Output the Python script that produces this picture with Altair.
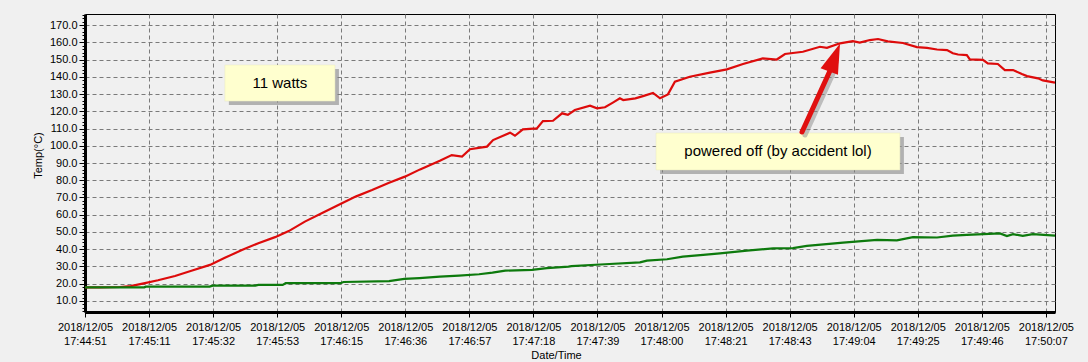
import altair as alt
import pandas as pd

# ---------------- data ----------------
DATE = "2018/12/05"
TICK_TIMES = ["17:44:51", "17:45:11", "17:45:32", "17:45:53", "17:46:15", "17:46:36",
              "17:46:57", "17:47:18", "17:47:39", "17:48:00", "17:48:21", "17:48:43",
              "17:49:04", "17:49:25", "17:49:46", "17:50:07"]
TICK_STEP = 21.0667  # seconds between labelled ticks
Y_TICKS = [10, 20, 30, 40, 50, 60, 70, 80, 90, 100, 110, 120, 130, 140, 150, 160, 170]

# seconds since 17:44:51
red_t = [0, 4.9, 11.5, 15, 19.7, 24, 29.6, 35, 41.1, 46, 51.6, 57, 62.5, 67, 72.3, 78, 84.5,
         89, 94.4, 100, 105.2, 110.2, 116.7, 120.6, 124, 126.6, 132.2, 134.2, 139.8, 141.4,
         144, 148.6, 150.6, 153.9, 156.9, 158.8, 161.1, 166.1, 168.4, 171, 173.6, 175.9,
         177, 181, 183.5, 186.8, 189.1, 191.7, 194, 198.9, 205.5, 211.1, 216.4, 222.9,
         227.5, 230.2, 236.1, 241.7, 244, 248.3, 252.5, 254.8, 258.1, 260.8, 264, 269,
         273.6, 276.9, 280.2, 283.5, 285.4, 287.1, 290, 291, 295.3, 296.9, 300.2, 302.5,
         305.2, 308.1, 309.8, 313.4, 315, 319]
red_v = [17.9, 17.9, 18.1, 18.6, 20.3, 22.0, 24.5, 27.5, 30.9, 35.0, 39.6, 43.5, 47.0, 50.5,
         56.0, 61.0, 66.6, 70.5, 74.3, 78.5, 82.1, 86.3, 91.3, 94.6, 93.7, 98.0, 99.5, 103.3,
         107.6, 105.8, 109.5, 110.1, 114.3, 114.5, 118.8, 117.9, 120.7, 123.2, 121.7, 122.3,
         125.0, 127.5, 126.5, 127.5, 128.8, 130.6, 127.5, 129.8, 137.2, 140.0, 142.4, 144.3,
         147.4, 150.7, 150.0, 153.2, 154.5, 157.4, 156.8, 159.4, 160.7, 159.8, 161.3, 161.9,
         160.5, 159.6, 157.2, 156.8, 155.8, 155.5, 153.6, 152.9, 152.6, 150.1, 149.8, 147.8,
         147.4, 143.9, 143.9, 141.6, 140.4, 139.1, 137.9, 136.6]

green_t = [0, 19.5, 20, 41, 42, 56, 57, 65, 66, 84, 85, 100, 105, 110, 116.7, 123, 129.6,
           134, 138.2, 147, 151.9, 159, 160, 171, 182.5, 184.8, 191.4, 196.6, 203.3, 208.8,
           217.7, 226.3, 232.8, 237.4, 249.3, 260.5, 267, 272.3, 280.2, 285.4, 290, 300.9,
           303.2, 305.2, 308.4, 311.7, 319]
green_v = [17.9, 17.9, 18.3, 18.3, 18.9, 18.9, 19.3, 19.3, 20.3, 20.3, 21.0, 21.5, 22.8, 23.3,
           24.1, 24.7, 25.5, 26.4, 27.6, 28.0, 29.0, 29.9, 30.2, 31.3, 32.4, 33.4, 34.2, 35.7,
           36.7, 37.6, 39.2, 40.5, 40.6, 41.9, 43.8, 45.4, 45.1, 47.0, 46.8, 47.9, 48.3, 49.2,
           47.6, 48.7, 47.8, 48.7, 47.9]

# annotations (data coordinates: seconds, °C)
note_text = ["11 watts", "powered off (by accident lol)"]
note_t1 = [46.0, 187.8]
note_t2 = [82.2, 268.0]
note_v1 = [146.8, 107.4]
note_v2 = [125.9, 86.0]
arrow_t = [235.8, 245.0]
arrow_v = [108.0, 143.5]
arrow_tip_t = [248.3]
arrow_tip_v = [159.3]

# ---------------- frames ----------------
lines = pd.concat([
    pd.DataFrame({"t": red_t, "v": red_v, "s": "red"}),
    pd.DataFrame({"t": green_t, "v": green_v, "s": "green"}),
])
notes = pd.DataFrame({"text": note_text, "t1": note_t1, "t2": note_t2,
                      "v1": note_v1, "v2": note_v2,
                      "tm": [(a + b) / 2 for a, b in zip(note_t1, note_t2)],
                      "vm": [(a + b) / 2 for a, b in zip(note_v1, note_v2)]})
arrow = pd.DataFrame({"t0": [arrow_t[0]], "t1": [arrow_t[1]],
                      "v0": [arrow_v[0]], "v1": [arrow_v[1]]})
tip = pd.DataFrame({"t": arrow_tip_t, "v": arrow_tip_v})

tick_vals = [round(i * TICK_STEP, 4) for i in range(len(TICK_TIMES))]
label_arr = "[" + ",".join(f"'{s}'" for s in TICK_TIMES) + "]"
label_expr = f"['{DATE}', {label_arr}[round(datum.value / {TICK_STEP})]]"

FONT = "Liberation Sans"
X_DOMAIN = [0, 319]
Y_DOMAIN = [3.6, 176.4]

xscale = alt.Scale(domain=X_DOMAIN, nice=False, zero=False)
yscale = alt.Scale(domain=Y_DOMAIN, nice=False, zero=False)

x_axis = alt.Axis(values=tick_vals, labelExpr=label_expr, title="Date/Time",
                  grid=True, gridDash=[4, 3], gridColor="#7a7a7a", gridWidth=1,
                  domainWidth=3, domainColor="black", tickColor="black", tickSize=5,
                  labelPadding=4, labelLineHeight=14, labelFontSize=11, labelFont=FONT,
                  labelColor="black", titleFont=FONT, titleFontSize=11,
                  titleFontWeight="normal", titleColor="black",
                  titleX=471, titleY=43, titleBaseline="middle",
                  labelFlush=False, labelOverlap=False)
y_axis = alt.Axis(values=Y_TICKS, format=".1f", title="Temp(°C)",
                  grid=True, gridDash=[4, 3], gridColor="#7a7a7a", gridWidth=1,
                  domainWidth=3, domainColor="black", tickColor="black", tickSize=6,
                  labelPadding=2, labelFontSize=11, labelFont=FONT, labelColor="black",
                  titleFont=FONT, titleFontSize=11, titleFontWeight="normal",
                  titleColor="black", titleAngle=270, titleX=-47, titleY=141,
                  titleAlign="center", titleBaseline="middle", labelOverlap=False)

X = lambda f: alt.X(f, scale=xscale, axis=x_axis)
Y = lambda f: alt.Y(f, scale=yscale, axis=None)

base_lines = alt.Chart(lines).mark_line(strokeWidth=2.2, interpolate="linear").encode(
    x=X("t:Q"),
    y=alt.Y("v:Q", scale=yscale, axis=y_axis),
    color=alt.Color("s:N", scale=alt.Scale(domain=["red", "green"],
                                           range=["#dd0b0b", "#0d7a0d"]), legend=None),
)

minor = alt.Chart(tip).mark_point(opacity=0).encode(
    x=X("t:Q"),
    y=alt.Y("v:Q", scale=yscale,
            axis=alt.Axis(orient="left", values=list(range(4, 177, 2)), labels=False,
                          title=None, grid=False, domain=False, tickSize=3,
                          tickColor="black")),
)

shadow = alt.Chart(notes).mark_rect(fill="#7d7d7d", opacity=0.55, xOffset=4, x2Offset=4,
                                     yOffset=4, y2Offset=4).encode(
    x=X("t1:Q"), x2="t2:Q", y=Y("v1:Q"), y2="v2:Q")
boxes = alt.Chart(notes).mark_rect(fill="#ffffcf", stroke="#e8e8c0", strokeWidth=0.5).encode(
    x=X("t1:Q"), x2="t2:Q", y=Y("v1:Q"), y2="v2:Q")
texts = alt.Chart(notes).mark_text(font=FONT, fontSize=15, color="black",
                                   align="center", baseline="middle").encode(
    x=X("tm:Q"), y=Y("vm:Q"), text="text:N")

arrow_shadow = alt.Chart(arrow).mark_rule(color="#8a8a8a", strokeWidth=5, opacity=0.5,
                                          xOffset=3, x2Offset=3, yOffset=3, y2Offset=3,
                                          strokeCap="round").encode(
    x=X("t0:Q"), x2="t1:Q", y=Y("v0:Q"), y2="v1:Q")
arrow_line = alt.Chart(arrow).mark_rule(color="#e01010", strokeWidth=5,
                                        strokeCap="round").encode(
    x=X("t0:Q"), x2="t1:Q", y=Y("v0:Q"), y2="v1:Q")
arrow_head = alt.Chart(tip).mark_point(shape="M0,0 L-0.62,2 L0.62,2 Z", size=900,
                                       filled=True, color="#e01010", opacity=1,
                                       angle=21, strokeWidth=0).encode(
    x=X("t:Q"), y=Y("v:Q"))

chart = alt.layer(base_lines, minor, shadow, boxes, texts, arrow_shadow, arrow_line,
                  arrow_head).resolve_axis(y="independent").properties(
    width=970, height=298,
    autosize=alt.AutoSizeParams(type="none"),
    padding={"left": 85, "top": 14, "right": 33, "bottom": 50},
    background="#f0f0f0",
).configure_view(stroke="black", strokeWidth=1, fill="#f0f0f0")

chart.save("out.html", embed_options={"renderer": "svg", "actions": False})
